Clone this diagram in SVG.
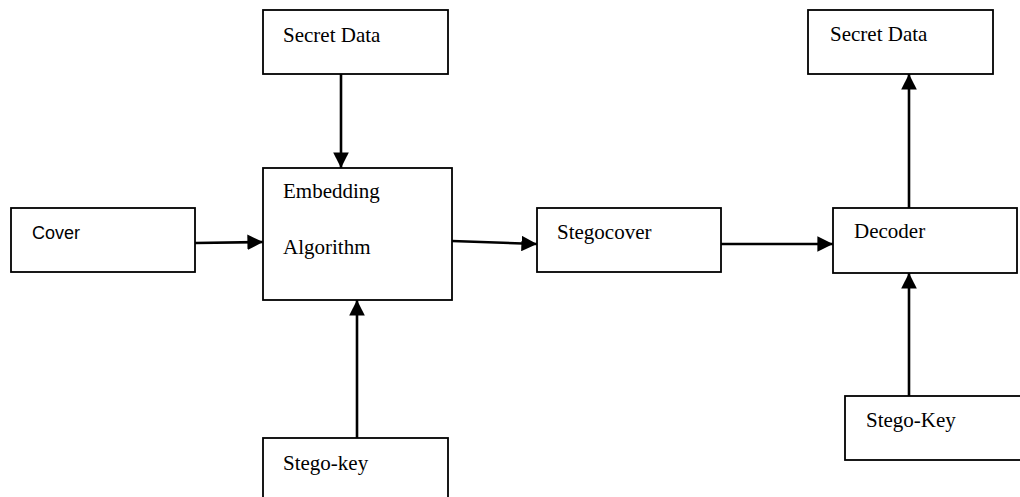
<svg xmlns="http://www.w3.org/2000/svg" width="1020" height="497" viewBox="0 0 1020 497">
<style>
.box{fill:#fff;stroke:#000;stroke-width:1.8}
.t{font-family:"Liberation Serif","Times New Roman",serif;font-size:21px;fill:#000}
.s{font-family:"Liberation Sans",Arial,sans-serif;font-size:18px;fill:#000}
.c{stroke:#000;stroke-width:2.6;fill:none;marker-end:url(#ah)}
</style>
<defs>
<marker id="ah" markerWidth="6" markerHeight="6" refX="6" refY="3" orient="auto" markerUnits="strokeWidth">
<path d="M0,0 L6,3 L0,6 Z" fill="#000"/>
</marker>
</defs>
<rect width="1020" height="497" fill="#fff"/>
<g id="connectors">
<line class="c" x1="195" y1="243" x2="263" y2="242"/>
<line class="c" x1="341" y1="74" x2="341" y2="168"/>
<line class="c" x1="357" y1="438" x2="357" y2="300"/>
<line class="c" x1="452" y1="241" x2="537" y2="244"/>
<line class="c" x1="721" y1="244" x2="833" y2="244"/>
<line class="c" x1="909" y1="208" x2="909" y2="74"/>
<line class="c" x1="909" y1="396" x2="909" y2="273"/>
</g>
<g id="cover"><rect class="box" x="11" y="208" width="184" height="64"/><text class="s" x="32" y="239">Cover</text></g>
<g id="secret1"><rect class="box" x="263" y="10" width="185" height="64"/><text class="t" x="283" y="42">Secret Data</text></g>
<g id="embedding"><rect class="box" x="263" y="168" width="189" height="132"/><text class="t" x="283" y="198">Embedding</text><text class="t" x="283" y="254">Algorithm</text></g>
<g id="stegokey1"><rect class="box" x="263" y="438" width="185" height="80"/><text class="t" x="283" y="470">Stego-key</text></g>
<g id="stegocover"><rect class="box" x="537" y="208" width="184" height="64"/><text class="t" x="557" y="239">Stegocover</text></g>
<g id="decoder"><rect class="box" x="833" y="208" width="184" height="65"/><text class="t" x="854" y="238">Decoder</text></g>
<g id="secret2"><rect class="box" x="808" y="10" width="185" height="64"/><text class="t" x="830" y="41">Secret Data</text></g>
<g id="stegokey2"><rect class="box" x="845" y="396" width="185" height="64"/><text class="t" x="866" y="427">Stego-Key</text></g>
</svg>
